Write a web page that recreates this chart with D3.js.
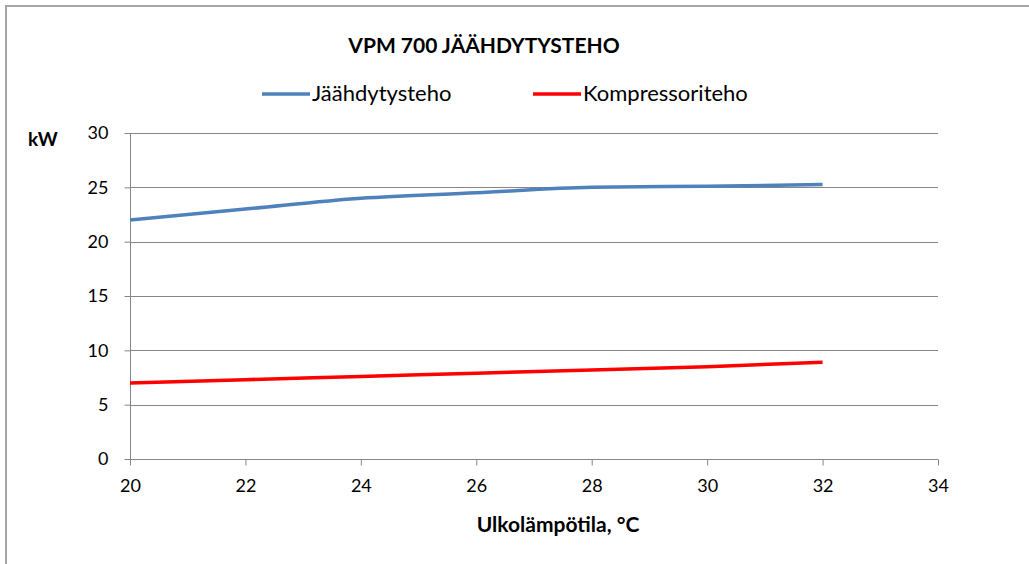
<!DOCTYPE html>
<meta charset="utf-8">
<style>
body { margin: 0; background: #fff; font-family: Lato, "Open Sans", sans-serif; }
.axis path { display: none; }
.axis line { stroke: #868686; }
.grid line { stroke: #868686; }
.axis text { font-family: Lato, "Open Sans", sans-serif; font-size: 18px; fill: #000; }
path.line { fill: none; stroke-width: 3.5; }
</style>
<body>
<script src="https://d3js.org/d3.v7.min.js"></script>
<script>
// data
var temps = [20, 22, 24, 26, 28, 30, 32];
var cooling = [22.0, 23.0, 24.0, 24.5, 25.0, 25.1, 25.25];
var compressor = [7.0, 7.3, 7.6, 7.9, 8.2, 8.5, 8.9];
var xTicks = [20, 22, 24, 26, 28, 30, 32, 34];
var yTicks = [0, 5, 10, 15, 20, 25, 30];
var seriesNames = ["Jäähdytysteho", "Kompressoriteho"];
var seriesColors = ["#4f81bd", "#ff0000"];

var width = 1029, height = 564;
var plotLeft = 130, plotRight = 938, plotTop = 133, plotBottom = 459;

var svg = d3.select("body").append("svg")
    .attr("width", width)
    .attr("height", height);

// outer frame
svg.append("rect")
    .attr("x", 6).attr("y", 6)
    .attr("width", 1040).attr("height", 600)
    .attr("fill", "#fff")
    .attr("stroke", "#a6a6a6")
    .attr("stroke-width", 2);

var x = d3.scaleLinear().domain([20, 34]).range([plotLeft, plotRight]);
var y = d3.scaleLinear().domain([0, 30]).range([plotBottom, plotTop]);

// gridlines
svg.append("g")
    .attr("class", "grid")
    .selectAll("line")
    .data(yTicks.slice(1))
    .enter().append("line")
    .attr("x1", plotLeft).attr("x2", plotRight)
    .attr("y1", function(d) { return Math.round(y(d)) + 0.5; })
    .attr("y2", function(d) { return Math.round(y(d)) + 0.5; });

// y axis
svg.append("g")
    .attr("class", "axis")
    .attr("transform", "translate(" + (plotLeft + 0.5) + ",0)")
    .call(d3.axisLeft(y).tickValues(yTicks).tickSize(6).tickPadding(16))
    .call(function(g) {
        g.append("line").attr("y1", plotTop).attr("y2", plotBottom).attr("stroke", "#868686");
    });

// x axis
svg.append("g")
    .attr("class", "axis")
    .attr("transform", "translate(0," + (plotBottom + 0.5) + ")")
    .call(d3.axisBottom(x).tickValues(xTicks).tickSize(6).tickPadding(14))
    .call(function(g) {
        g.append("line").attr("x1", plotLeft).attr("x2", plotRight).attr("stroke", "#868686");
    });

var line = d3.line()
    .x(function(d) { return x(d[0]); })
    .y(function(d) { return y(d[1]); })
    .curve(d3.curveMonotoneX);

[cooling, compressor].forEach(function(vals, i) {
    svg.append("path")
        .attr("class", "line")
        .attr("stroke", seriesColors[i])
        .attr("d", line(temps.map(function(t, j) { return [t, vals[j]]; })));
});

// title
svg.append("text")
    .attr("x", 484).attr("y", 53)
    .attr("text-anchor", "middle")
    .style("font-size", "21px").style("font-weight", "bold")
    .text("VPM 700 JÄÄHDYTYSTEHO");

// legend
var legendX = [262, 533];
seriesNames.forEach(function(name, i) {
    svg.append("line")
        .attr("x1", legendX[i]).attr("x2", legendX[i] + 48)
        .attr("y1", 94).attr("y2", 94)
        .attr("stroke", seriesColors[i])
        .attr("stroke-width", 3.5);
    svg.append("text")
        .attr("x", legendX[i] + 50).attr("y", 101)
        .style("font-size", "22px")
        .text(name);
});

// axis titles
svg.append("text")
    .attr("x", 28).attr("y", 146)
    .style("font-size", "19px").style("font-weight", "bold")
    .text("kW");

svg.append("text")
    .attr("x", 558).attr("y", 532)
    .attr("text-anchor", "middle")
    .style("font-size", "21px").style("font-weight", "bold")
    .text("Ulkolämpötila, °C");
</script>
</body>
